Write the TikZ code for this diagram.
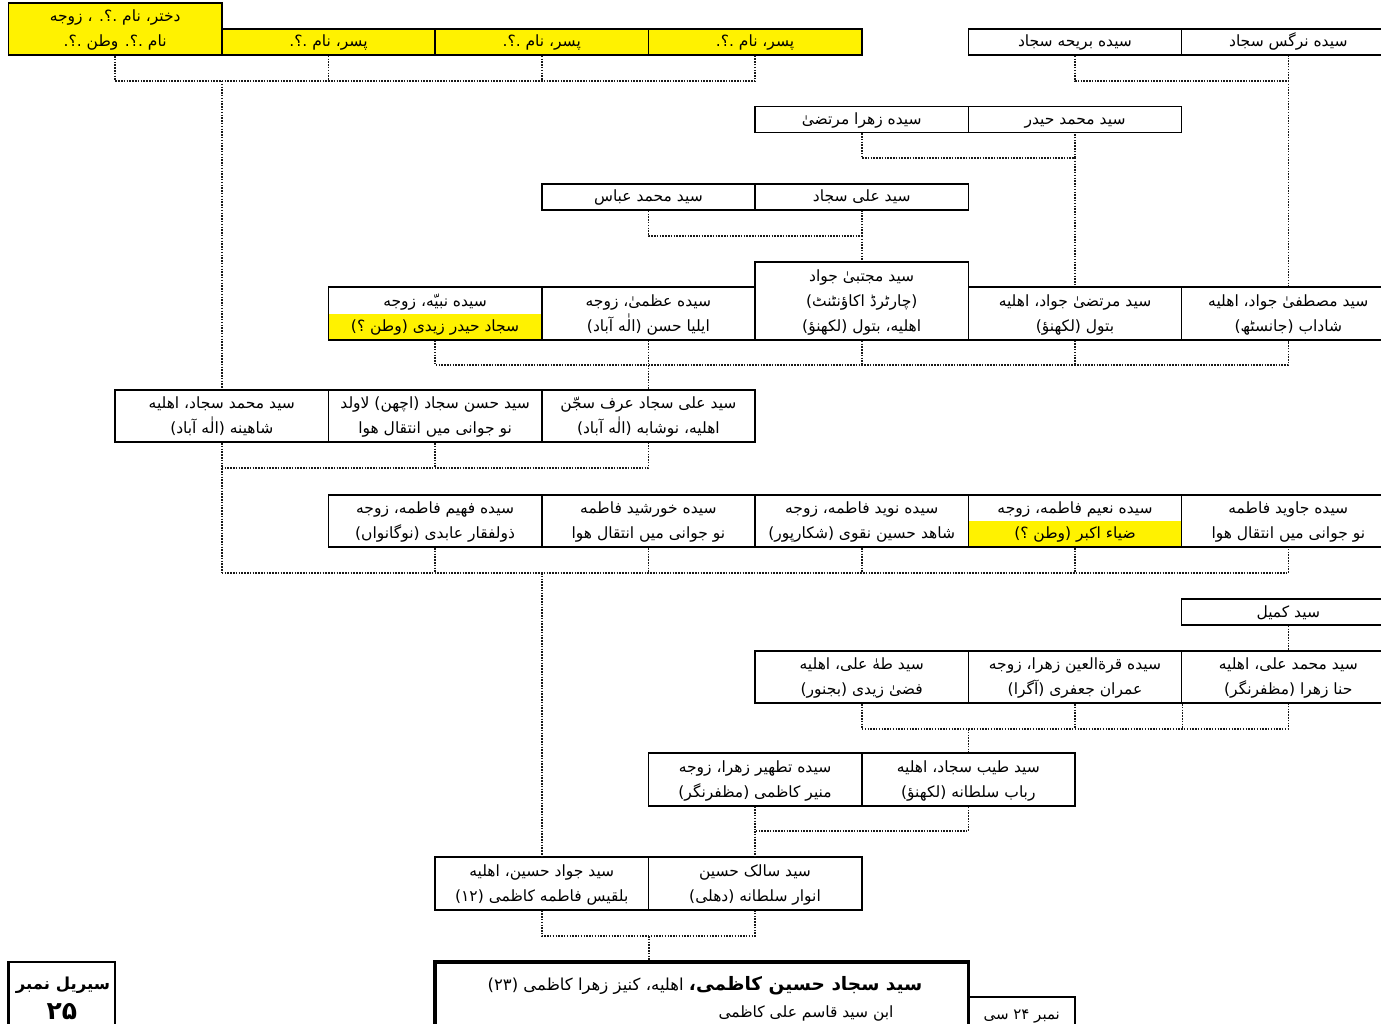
\documentclass[tikz,border=0pt]{standalone}
\usepackage{fontspec}
\setmainfont{DejaVu Sans}
\newfontfamily\urdu[Script=Arabic]{DejaVu Sans}
\TeXXeTstate=1
\newcommand\urt[1]{\strut\beginR #1\endR}
\tikzset{
  box/.style={draw, line width=1.6pt, minimum width=213.3pt, inner sep=0pt, align=center,
    font=\urdu\fontsize{15.5}{25}\selectfont},
  sza/.style={minimum height=26pt},
  szb/.style={minimum height=52.5pt},
  szc/.style={minimum height=78pt},
  yel/.style={fill=yellow},
  yelhalf/.style={path picture={\fill[yellow] (path picture bounding box.west) rectangle (path picture bounding box.south east);}},
  conn/.style={line width=1.6pt, dash pattern=on 1.5pt off 1.3pt, black!90},
}
\begin{document}
\begin{tikzpicture}[x=1pt,y=-1pt]
\useasboundingbox (0,0) rectangle (1381,1024);
\clip (0,0) rectangle (1381,1024);
% row A
\node[box,szb,yel] (a1) at (115.15,29) {\urt{دختر، نام .؟. ، زوجه}\\\urt{نام .؟. وطن .؟.}};
\node[box,sza,yel] (a2) at (328.45,42) {\urt{پسر، نام .؟.}};
\node[box,sza,yel] (a3) at (541.75,42) {\urt{پسر، نام .؟.}};
\node[box,sza,yel] (a4) at (755.05,42) {\urt{پسر، نام .؟.}};
\node[box,sza] (r1) at (1075,42) {\urt{سیده بریحه سجاد}};
\node[box,sza] (r2) at (1288.3,42) {\urt{سیده نرگس سجاد}};
% row B
\node[box,sza] (b1) at (861.7,119.5) {\urt{سیده زهرا مرتضیٰ}};
\node[box,sza] (b2) at (1075,119.5) {\urt{سید محمد حیدر}};
% row C
\node[box,sza] (c1) at (648.4,197) {\urt{سید محمد عباس}};
\node[box,sza] (c2) at (861.7,197) {\urt{سید علی سجاد}};
% row D
\node[box,szb,yelhalf] (d1) at (435.1,313.5) {\urt{سیده نبیّه، زوجه}\\\urt{سجاد حیدر زیدی (وطن ؟)}};
\node[box,szb] (d2) at (648.4,313.5) {\urt{سیده عظمیٰ، زوجه}\\\urt{ایلیا حسن (الٰه آباد)}};
\node[box,szc] (d3) at (861.7,301) {\urt{سید مجتبیٰ جواد}\\\urt{(چارٹرڈ اکاؤنٹنٹ)}\\\urt{اهلیه، بتول (لکھنؤ)}};
\node[box,szb] (d4) at (1075,313.5) {\urt{سید مرتضیٰ جواد، اهلیه}\\\urt{بتول (لکھنؤ)}};
\node[box,szb] (d5) at (1288.3,313.5) {\urt{سید مصطفیٰ جواد، اهلیه}\\\urt{شاداب (جانسٹھ)}};
% row E
\node[box,szb] (e1) at (221.8,416) {\urt{سید محمد سجاد، اهلیه}\\\urt{شاهینه (الٰه آباد)}};
\node[box,szb] (e2) at (435.1,416) {\urt{سید حسن سجاد (اچھن) لاولد}\\\urt{نو جوانی میں انتقال هوا}};
\node[box,szb] (e3) at (648.4,416) {\urt{سید علی سجاد عرف سجّن}\\\urt{اهلیه، نوشابه (الٰه آباد)}};
% row F
\node[box,szb] (f1) at (435.1,521) {\urt{سیده فهیم فاطمه، زوجه}\\\urt{ذولفقار عابدی (نوگانواں)}};
\node[box,szb] (f2) at (648.4,521) {\urt{سیده خورشید فاطمه}\\\urt{نو جوانی میں انتقال هوا}};
\node[box,szb] (f3) at (861.7,521) {\urt{سیده نوید فاطمه، زوجه}\\\urt{شاهد حسین نقوی (شکارپور)}};
\node[box,szb,yelhalf] (f4) at (1075,521) {\urt{سیده نعیم فاطمه، زوجه}\\\urt{ضیاء اکبر (وطن ؟)}};
\node[box,szb] (f5) at (1288.3,521) {\urt{سیده جاوید فاطمه}\\\urt{نو جوانی میں انتقال هوا}};
% row G
\node[box,sza] (g1) at (1288.3,612) {\urt{سید کمیل}};
% row H
\node[box,szb] (hA) at (861.7,677) {\urt{سید طهٰ علی، اهلیه}\\\urt{فضیٰ زیدی (بجنور)}};
\node[box,szb] (hB) at (1075,677) {\urt{سیده قرةالعین زهرا، زوجه}\\\urt{عمران جعفری (آگرا)}};
\node[box,szb] (hC) at (1288.3,677) {\urt{سید محمد علی، اهلیه}\\\urt{حنا زهرا (مظفرنگر)}};
% row I
\node[box,szb] (i1) at (755.05,779.5) {\urt{سیده تطهیر زهرا، زوجه}\\\urt{منیر کاظمی (مظفرنگر)}};
\node[box,szb] (i2) at (968.35,779.5) {\urt{سید طیب سجاد، اهلیه}\\\urt{رباب سلطانه (لکھنؤ)}};
% row J
\node[box,szb] (j1) at (541.75,883.5) {\urt{سید جواد حسین، اهلیه}\\\urt{بلقیس فاطمه کاظمی (۱۲)}};
\node[box,szb] (j2) at (755.05,883.5) {\urt{سید سالک حسین}\\\urt{انوار سلطانه (دهلی)}};
% main box
\node[draw, line width=3.5pt, minimum width=533.25pt, minimum height=70pt, inner sep=0pt] (m) at (701.7,997) {};
\node[anchor=base, inner sep=0pt, font=\urdu\fontsize{16.5}{20}\selectfont] (mt1) at (705,990)
  {\beginR{\bfseries\fontsize{18.5}{22}\selectfont سید سجاد حسین کاظمی،} اهلیه، کنیز زهرا کاظمی (۲۳)\endR};
\node[anchor=base, inner sep=0pt, font=\urdu\fontsize{15.5}{20}\selectfont] (mt2) at (806,1017)
  {\beginR ابن سید قاسم علی کاظمی\endR};
\node[draw, line width=1.6pt, minimum width=106.65pt, minimum height=34pt, inner sep=0pt] (nb) at (1021.7,1014) {};
\node[anchor=base, inner sep=0pt, font=\urdu\fontsize{15}{18}\selectfont] (nbt) at (1021.7,1019)
  {\beginR نمبر ۲۴ سی\endR};
% serial box
\node[draw, line width=2.5pt, minimum width=106.65pt, minimum height=70pt, inner sep=0pt] (s) at (61.8,997) {};
\node[anchor=base, inner sep=0pt, font=\urdu\bfseries\fontsize{16.5}{20}\selectfont] (st1) at (63,989)
  {\beginR سیریل نمبر\endR};
\node[anchor=base, inner sep=0pt, font=\urdu\bfseries\fontsize{25}{28}\selectfont] (st2) at (62,1019)
  {\beginR ۲۵\endR};
% bus levels
\coordinate (yA) at (0,81);
\coordinate (yB) at (0,158);
\coordinate (yC) at (0,236);
\coordinate (yD) at (0,365);
\coordinate (yE) at (0,468);
\coordinate (yF) at (0,573);
\coordinate (yH) at (0,729);
\coordinate (yI) at (0,831);
\coordinate (yJ) at (0,936);
% connectors
\draw[conn] (a1.south) -- (a1.south |- yA) -- (a4.south |- yA) -- (a4.south);
\draw[conn] (a2.south) -- (a2.south |- yA);
\draw[conn] (a3.south) -- (a3.south |- yA);
\draw[conn] (e1.north |- yA) -- (e1.north);
\draw[conn] (r1.south) -- (r1.south |- yA) -- (r2.south |- yA) -- (r2.south);
\draw[conn] (r2.south |- yA) -- (d5.north);
\draw[conn] (b1.south) -- (b1.south |- yB) -- (b2.south |- yB) -- (b2.south);
\draw[conn] (b2.south |- yB) -- (d4.north);
\draw[conn] (c1.south) -- (c1.south |- yC) -- (c2.south |- yC) -- (c2.south);
\draw[conn] (c2.south |- yC) -- (d3.north);
\draw[conn] (d1.south) -- (d1.south |- yD) -- (d5.south |- yD) -- (d5.south);
\draw[conn] (d2.south) -- (d2.south |- yD);
\draw[conn] (d3.south) -- (d3.south |- yD);
\draw[conn] (d4.south) -- (d4.south |- yD);
\draw[conn] (d2.south |- yD) -- (e3.north);
\draw[conn] (e1.south) -- (e1.south |- yF);
\draw[conn] (e1.south |- yE) -- (e3.south |- yE) -- (e3.south);
\draw[conn] (e2.south) -- (e2.south |- yE);
\draw[conn] (e1.south |- yF) -- (f5.south |- yF) -- (f5.south);
\draw[conn] (f1.south) -- (f1.south |- yF);
\draw[conn] (f2.south) -- (f2.south |- yF);
\draw[conn] (f3.south) -- (f3.south |- yF);
\draw[conn] (f4.south) -- (f4.south |- yF);
\draw[conn] (j1.north |- yF) -- (j1.north);
\draw[conn] (g1.south) -- (hC.north);
\draw[conn] (hA.south) -- (hA.south |- yH) -- (hC.south |- yH) -- (hC.south);
\draw[conn] (hB.south) -- (hB.south |- yH);
\draw[conn] (hB.south east) -- (hB.south east |- yH);
\draw[conn] (i2.north |- yH) -- (i2.north);
\draw[conn] (i1.south) -- (i1.south |- yI) -- (i2.south |- yI) -- (i2.south);
\draw[conn] (i1.south |- yI) -- (j2.north);
\draw[conn] (j1.south) -- (j1.south |- yJ) -- (j2.south |- yJ) -- (j2.south);
\draw[conn] (j1.south east |- yJ) -- (j1.south east |- m.north);
\end{tikzpicture}
\end{document}
